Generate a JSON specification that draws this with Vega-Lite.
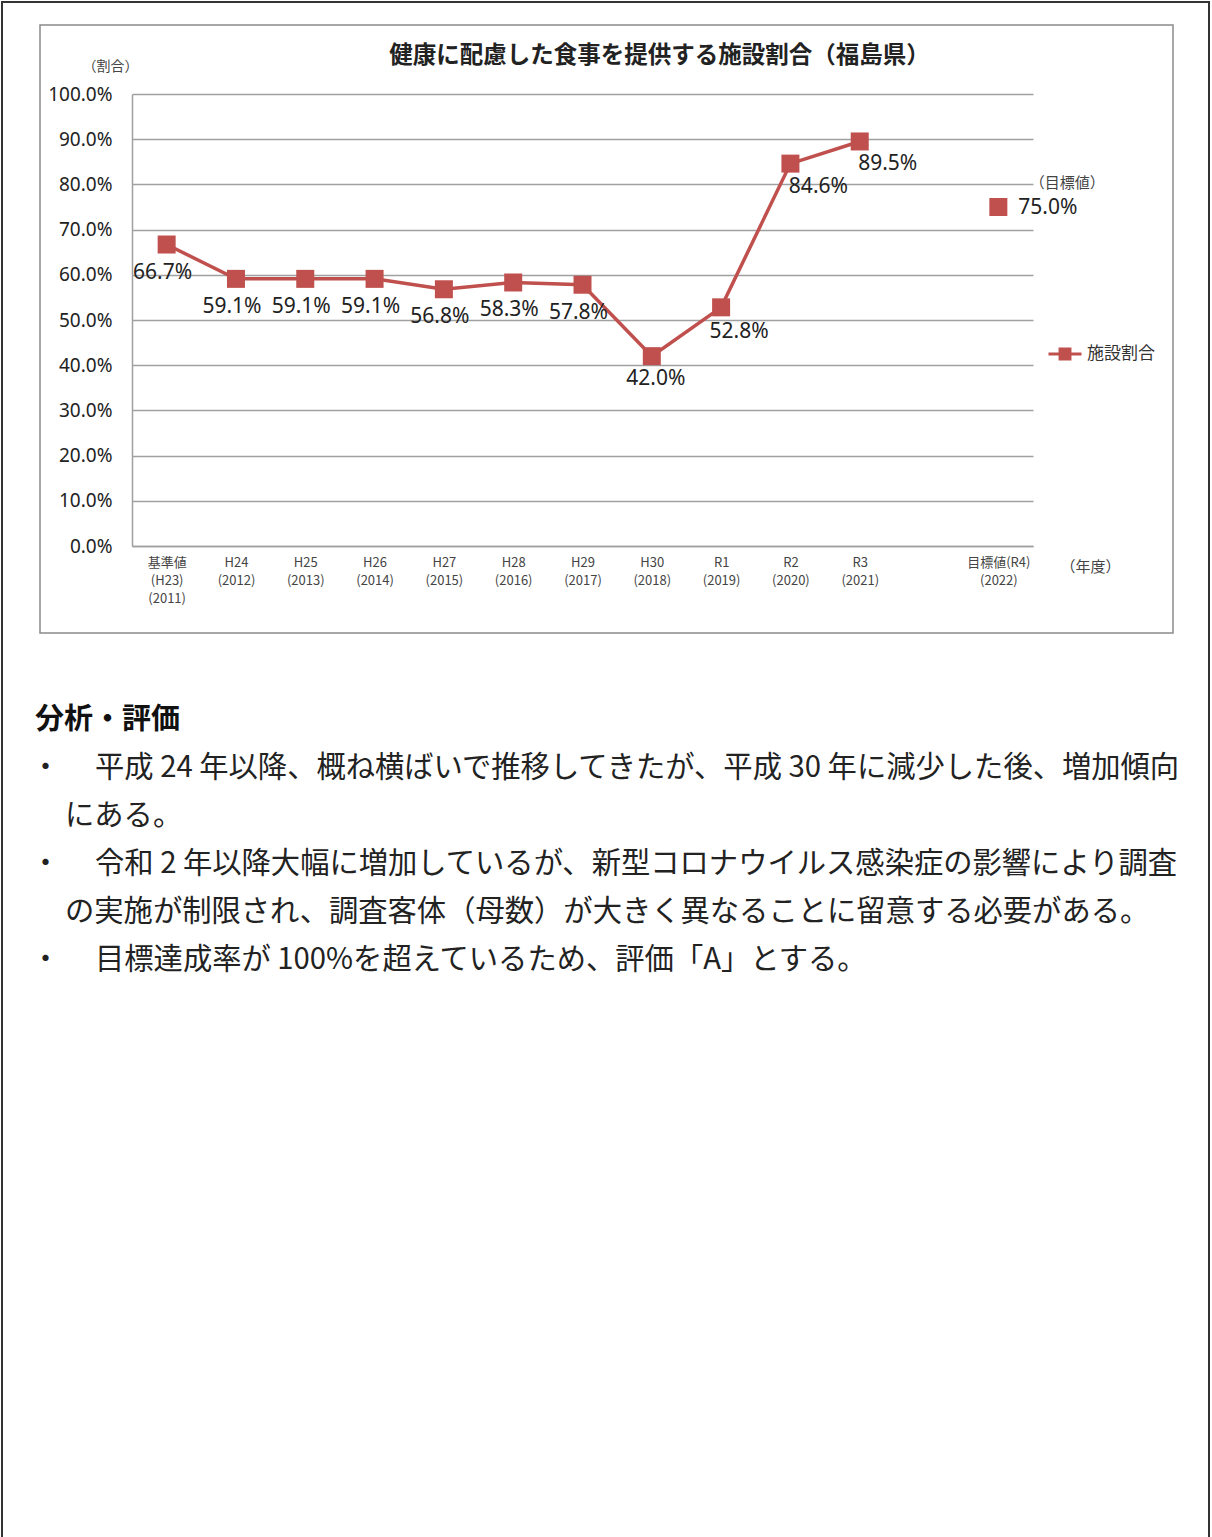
{
  "$schema": "https://vega.github.io/schema/vega-lite/v6.json",
  "width": 1207,
  "height": 1540,
  "autosize": "none",
  "padding": {"left": 2, "top": 2, "right": 3, "bottom": 0},
  "background": "white",
  "config": {"view": {"stroke": "#333333", "strokeWidth": 2}, "font": "Noto Sans CJK JP"},
  "title": {"text": "健康に配慮した食事を提供する施設割合（福島県）", "anchor": "middle", "frame": "group", "dx": 54, "offset": -65, "fontSize": 23.5, "fontWeight": "bold", "font": "Noto Sans CJK JP", "color": "#222222"},
  "resolve": {"scale": {"x": "independent", "y": "independent"}},
  "layer": [
    {
      "data": {"values": [
        {"idx": 0, "value": 0.667, "series": "施設割合"},
        {"idx": 1, "value": 0.591, "series": "施設割合"},
        {"idx": 2, "value": 0.591, "series": "施設割合"},
        {"idx": 3, "value": 0.591, "series": "施設割合"},
        {"idx": 4, "value": 0.568, "series": "施設割合"},
        {"idx": 5, "value": 0.583, "series": "施設割合"},
        {"idx": 6, "value": 0.578, "series": "施設割合"},
        {"idx": 7, "value": 0.420, "series": "施設割合"},
        {"idx": 8, "value": 0.528, "series": "施設割合"},
        {"idx": 9, "value": 0.846, "series": "施設割合"},
        {"idx": 10, "value": 0.895, "series": "施設割合"},
        {"idx": 12, "value": 0.750, "series": "目標値"}
      ]},
      "encoding": {
        "x": {"field": "idx", "type": "quantitative",
          "scale": {"domain": [-0.5, 12.5], "range": [130, 1031], "nice": false, "zero": false},
          "axis": {"orient": "bottom", "offset": -996, "values": [0,1,2,3,4,5,6,7,8,9,10,12],
            "labelExpr": "[['基準値','(H23)','(2011)'],['H24','(2012)'],['H25','(2013)'],['H26','(2014)'],['H27','(2015)'],['H28','(2016)'],['H29','(2017)'],['H30','(2018)'],['R1','(2019)'],['R2','(2020)'],['R3','(2021)'],[''],['目標値(R4)','(2022)']][datum.value]",
            "grid": false, "ticks": false, "domain": true, "domainColor": "#a0a0a0", "domainWidth": 1.5,
            "labelFont": "Noto Sans CJK JP", "labelFontSize": 13, "labelColor": "#444444", "labelLineHeight": 18,
            "labelPadding": 10, "labelFlush": false, "labelOverlap": false, "labelBound": false,
            "title": "（年度）", "titleX": 1088, "titleY": 20, "titleAlign": "center", "titleBaseline": "middle", "titleAngle": 0,
            "titleFont": "Noto Sans CJK JP", "titleFontSize": 15, "titleFontWeight": "normal", "titleColor": "#444444"}},
        "y": {"field": "value", "type": "quantitative",
          "scale": {"domain": [0, 1], "range": [544, 92], "nice": false, "zero": false},
          "axis": {"orient": "left", "offset": -130, "values": [0,0.1,0.2,0.3,0.4,0.5,0.6,0.7,0.8,0.9,1],
            "format": ".1%", "grid": true, "gridColor": "#a0a0a0", "gridWidth": 1.5, "ticks": false,
            "domain": true, "domainColor": "#a0a0a0", "domainWidth": 1.5,
            "labelFont": "Noto Sans", "labelFontSize": 19, "labelColor": "#222222", "labelPadding": 20, "labelFlush": false,
            "title": "（割合）", "titleX": -22, "titleY": 64, "titleAngle": 0, "titleAlign": "center", "titleBaseline": "middle",
            "titleFont": "Noto Sans CJK JP", "titleFontSize": 14, "titleFontWeight": "normal", "titleColor": "#444444"}}
      },
      "layer": [
        {
          "transform": [{"filter": "datum.idx <= 10"}],
          "mark": {"type": "line", "strokeWidth": 3.5},
          "encoding": {
            "color": {"field": "series", "type": "nominal",
              "scale": {"domain": ["施設割合"], "range": ["#C0504D"]},
              "legend": {"orient": "none", "legendX": 1045, "legendY": 334, "title": null, "padding": 0,
                "symbolType": "M-1,0H1M-0.3,-0.3H0.3V0.3H-0.3Z", "symbolSize": 1089, "symbolStrokeWidth": 3,
                "symbolFillColor": "#C0504D", "symbolStrokeColor": "#C0504D",
                "labelFont": "Noto Sans CJK JP", "labelFontSize": 17, "labelColor": "#333333", "labelOffset": 4,
                "encode": {"symbols": {"update": {"fill": {"value": "#C0504D"}, "stroke": {"value": "#C0504D"}, "strokeWidth": {"value": 3}}}}}}
          }
        },
        {
          "mark": {"type": "point", "shape": "square", "filled": true, "size": 324, "color": "#C0504D", "opacity": 1}
        },
        {
          "transform": [{"filter": "datum.idx <= 6"}],
          "mark": {"type": "text", "font": "Noto Sans", "fontSize": 21, "color": "#222222", "dx": -4, "dy": 28, "align": "center", "baseline": "middle"},
          "encoding": {"text": {"field": "value", "type": "quantitative", "format": ".1%"}}
        },
        {
          "transform": [{"filter": "datum.idx == 7"}],
          "mark": {"type": "text", "font": "Noto Sans", "fontSize": 21, "color": "#222222", "dx": 4, "dy": 23, "align": "center", "baseline": "middle"},
          "encoding": {"text": {"field": "value", "type": "quantitative", "format": ".1%"}}
        },
        {
          "transform": [{"filter": "datum.idx == 8"}],
          "mark": {"type": "text", "font": "Noto Sans", "fontSize": 21, "color": "#222222", "dx": 18, "dy": 25, "align": "center", "baseline": "middle"},
          "encoding": {"text": {"field": "value", "type": "quantitative", "format": ".1%"}}
        },
        {
          "transform": [{"filter": "datum.idx == 9 || datum.idx == 10"}],
          "mark": {"type": "text", "font": "Noto Sans", "fontSize": 21, "color": "#222222", "dx": 28, "dy": 23, "align": "center", "baseline": "middle"},
          "encoding": {"text": {"field": "value", "type": "quantitative", "format": ".1%"}}
        },
        {
          "transform": [{"filter": "datum.idx == 12"}],
          "mark": {"type": "text", "font": "Noto Sans", "fontSize": 21, "color": "#222222", "dx": 20, "dy": 1, "align": "left", "baseline": "middle"},
          "encoding": {"text": {"field": "value", "type": "quantitative", "format": ".1%"}}
        },
        {
          "transform": [{"filter": "datum.idx == 12"}],
          "mark": {"type": "text", "text": "（目標値）", "font": "Noto Sans CJK JP", "fontSize": 15, "color": "#444444", "dx": 69, "dy": -24, "align": "center", "baseline": "middle"}
        }
      ]
    },
    {
      "data": {"values": [{"box": "chart"}]},
      "mark": {"type": "rect", "filled": false, "stroke": "#8a8a8a", "strokeWidth": 1.5},
      "encoding": {
        "x": {"datum": 0, "type": "quantitative", "scale": {"domain": [0, 1], "range": [38, 1171], "nice": false, "zero": false}, "axis": null},
        "x2": {"datum": 1},
        "y": {"datum": 0, "type": "quantitative", "scale": {"domain": [0, 1], "range": [23, 631], "nice": false, "zero": false}, "axis": null},
        "y2": {"datum": 1}
      }
    },
    {
      "data": {"values": [
        {"line": 0, "indent": 0, "kind": "heading", "text": "分析・評価"},
        {"line": 1, "indent": 0, "kind": "bullet", "text": "・"},
        {"line": 1, "indent": 2, "kind": "body", "text": "平成 24 年以降、概ね横ばいで推移してきたが、平成 30 年に減少した後、増加傾向"},
        {"line": 2, "indent": 1, "kind": "body", "text": "にある。"},
        {"line": 3, "indent": 0, "kind": "bullet", "text": "・"},
        {"line": 3, "indent": 2, "kind": "body", "text": "令和 2 年以降大幅に増加しているが、新型コロナウイルス感染症の影響により調査"},
        {"line": 4, "indent": 1, "kind": "body", "text": "の実施が制限され、調査客体（母数）が大きく異なることに留意する必要がある。"},
        {"line": 5, "indent": 0, "kind": "bullet", "text": "・"},
        {"line": 5, "indent": 2, "kind": "body", "text": "目標達成率が 100%を超えているため、評価「A」とする。"}
      ]},
      "encoding": {
        "x": {"field": "indent", "type": "quantitative", "scale": {"domain": [0, 2], "range": [33, 93], "nice": false, "zero": false}, "axis": null},
        "y": {"field": "line", "type": "quantitative", "scale": {"domain": [0, 5], "range": [718, 958], "nice": false, "zero": false}, "axis": null},
        "text": {"field": "text", "type": "nominal"}
      },
      "layer": [
        {"transform": [{"filter": "datum.kind == 'heading'"}],
          "mark": {"type": "text", "align": "left", "baseline": "middle", "font": "Noto Sans CJK JP", "fontSize": 29, "fontWeight": "bold", "color": "#111111"}},
        {"transform": [{"filter": "datum.kind == 'body'"}],
          "mark": {"type": "text", "align": "left", "baseline": "middle", "font": "Noto Sans CJK JP", "fontSize": 29.3, "fontWeight": "normal", "color": "#222222"}},
        {"transform": [{"filter": "datum.kind == 'bullet'"}],
          "mark": {"type": "text", "align": "left", "baseline": "middle", "font": "Noto Sans CJK JP", "fontSize": 29, "fontWeight": "normal", "color": "#222222", "dx": -4}}
      ]
    }
  ]
}
